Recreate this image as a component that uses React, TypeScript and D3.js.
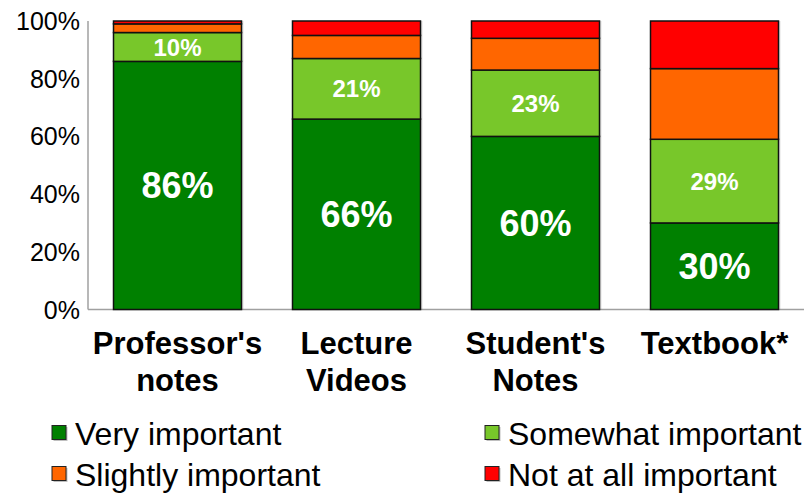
import React from 'react';
import * as d3 from 'd3';

const categories = ["Professor's notes", 'Lecture Videos', "Student's Notes", 'Textbook*'];
const categoryLines = [["Professor's", 'notes'], ['Lecture', 'Videos'], ["Student's", 'Notes'], ['Textbook*']];

const veryImportant = [86, 66, 60, 30];
const somewhatImportant = [10, 21, 23, 29];
const slightlyImportant = [3, 8, 11, 24.5];
const notAtAllImportant = [1, 5, 6, 16.5];

const seriesNames = ['Very important', 'Somewhat important', 'Slightly important', 'Not at all important'];
const seriesColors = ['#008000', '#78c72a', '#ff6600', '#ff0000'];
const yTicks = [0, 20, 40, 60, 80, 100];

const font = '"Liberation Sans", Arial, sans-serif';

const App = () => {
  const width = 805;
  const height = 498;
  const margin = { top: 21, right: 1, bottom: 188.5, left: 88 };

  const x = d3.scaleBand<string>()
    .domain(categories)
    .range([margin.left, width - margin.right])
    .paddingInner(51 / 179)
    .paddingOuter(25.5 / 179);

  const y = d3.scaleLinear()
    .domain([0, 100])
    .range([height - margin.bottom, margin.top]);

  // build a table for the stack layout
  const table = categories.map((c, i) => ({
    cat: c,
    s0: veryImportant[i],
    s1: somewhatImportant[i],
    s2: slightlyImportant[i],
    s3: notAtAllImportant[i],
  }));
  const stack = d3.stack<any>().keys(['s0', 's1', 's2', 's3']);
  const layers = stack(table);

  const bw = x.bandwidth();

  return (
    <div style={{ position: 'absolute', left: 0, top: 0 }}>
      <svg width={width} height={height} style={{ display: 'block', fontFamily: font }}>
        <rect width={width} height={height} fill="#fff" />

        {/* axes */}
        <line x1={margin.left} x2={margin.left} y1={y(100)} y2={y(0)} stroke="#a0a0a0" strokeWidth={1.5} />
        <line x1={margin.left} x2={width - margin.right} y1={y(0)} y2={y(0)} stroke="#a0a0a0" strokeWidth={1.5} />
        {yTicks.map(t => (
          <text key={t} x={80} y={y(t)} dy="0.36em" textAnchor="end" fontSize={25} fill="#000">
            {t}%
          </text>
        ))}

        {/* bars */}
        {layers.map((layer, li) => (
          <g key={li}>
            {layer.map((d, i) => (
              <g key={i}>
                <rect
                  x={(x(categories[i]) as number) + 2}
                  y={y(d[1])}
                  width={bw}
                  height={y(d[0]) - y(d[1])}
                  fill="#000"
                  opacity={0.12}
                />
                <rect
                  x={x(categories[i])}
                  y={y(d[1])}
                  width={bw}
                  height={y(d[0]) - y(d[1])}
                  fill={seriesColors[li]}
                  stroke="#111"
                  strokeWidth={1.5}
                />
              </g>
            ))}
          </g>
        ))}

        {/* value labels on green segments */}
        {layers.slice(0, 2).map((layer, li) => (
          <g key={'lab' + li}>
            {layer.map((d, i) => (
              <text
                key={i}
                x={(x(categories[i]) as number) + bw / 2}
                y={(y(d[0]) + y(d[1])) / 2}
                dy="0.36em"
                textAnchor="middle"
                fill="#fff"
                fontWeight="bold"
                fontSize={li === 0 ? 36 : 24}
              >
                {Math.round(d[1] - d[0])}%
              </text>
            ))}
          </g>
        ))}

        {/* category labels */}
        {categoryLines.map((lines, i) => (
          <text
            key={i}
            x={(x(categories[i]) as number) + bw / 2}
            y={354}
            textAnchor="middle"
            fontWeight="bold"
            fontSize={31}
            fill="#000"
          >
            {lines.map((ln, j) => (
              <tspan key={j} x={(x(categories[i]) as number) + bw / 2} dy={j === 0 ? 0 : 37}>
                {ln}
              </tspan>
            ))}
          </text>
        ))}

        {/* legend */}
        {seriesNames.map((name, i) => {
          const col = i % 2;
          const row = Math.floor(i / 2);
          const lx = col === 0 ? 52 : 485;
          const ly = 433 + row * 41;
          return (
            <g key={name}>
              <rect x={lx + 1.5} y={ly - 6} width={14} height={14} fill="#000" opacity={0.25} />
              <rect x={lx} y={ly - 7.5} width={14} height={14} fill={seriesColors[i]} stroke="#222" strokeWidth={1} />
              <text x={lx + 23} y={ly} dy="0.36em" fontSize={32} fill="#000">
                {name}
              </text>
            </g>
          );
        })}
      </svg>
    </div>
  );
};

export default App;
